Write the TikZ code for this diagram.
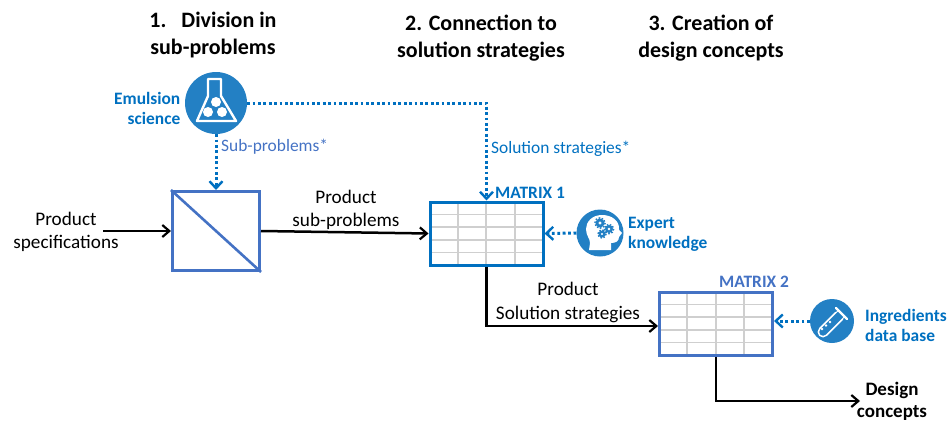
\documentclass[tikz,border=0pt]{standalone}
\usepackage{fontspec}
\setmainfont{Carlito}
\usetikzlibrary{arrows.meta}
\definecolor{sciblue}{HTML}{0070C0}
\definecolor{boxblue}{HTML}{4472C4}
\definecolor{iconblue}{HTML}{2380C4}
\definecolor{gridgray}{HTML}{CFCFCF}
\begin{document}
\begin{tikzpicture}[
        x = 1pt, y = -1pt,
        txt/.style = {align=center, inner sep=0pt, font=\fontsize{19.2}{23.5}\selectfont},
        head/.style = {txt, font=\fontsize{22}{27}\selectfont\bfseries},
        bluetxt/.style = {align=left, inner sep=0pt, text=sciblue, font=\fontsize{17.4}{20}\selectfont\bfseries},
        note/.style = {inner sep=0pt, font=\fontsize{17.4}{20}\selectfont},
        mat/.style = {draw, line width=3pt, minimum width=113pt, minimum height=63pt, inner sep=0pt},
        icon/.style = {circle, fill=iconblue, inner sep=0pt},
        arr/.style = {draw, line width=2.5pt, -{Straight Barb[length=7pt,width=12pt,line width=2.2pt]}},
        dotarr/.style = {draw=sciblue, line width=3pt, dash pattern=on 2.8pt off 2.6pt, -{Straight Barb[length=7pt,width=13pt,line width=2.4pt]}},
        gridline/.style = {draw=gridgray, line width=1.6pt},
    ]
    \useasboundingbox (0,0) rectangle (950,423);

    % headings
    \node (H1) [head] at (213,35.5) {1.~~~Division in\\sub-problems};
    \node (H2) [head] at (481,38.5) {2. Connection to\\solution strategies};
    \node (H3) [head] at (711,38.5) {3. Creation of\\design concepts};

    % table lines
    \draw[gridline] (430,214.6) -- (543,214.6);
    \draw[gridline] (430,227.2) -- (543,227.2);
    \draw[gridline] (430,239.8) -- (543,239.8);
    \draw[gridline] (430,252.4) -- (543,252.4);
    \draw[gridline] (458,202) -- (458,265);
    \draw[gridline] (486,202) -- (486,265);
    \draw[gridline] (515,202) -- (515,265);
    \draw[gridline] (659,304.6) -- (773,304.6);
    \draw[gridline] (659,317.2) -- (773,317.2);
    \draw[gridline] (659,329.8) -- (773,329.8);
    \draw[gridline] (659,342.4) -- (773,342.4);
    \draw[gridline] (687,292) -- (687,355);
    \draw[gridline] (716,292) -- (716,355);
    \draw[gridline] (744,292) -- (744,355);

    \node (B) [draw=boxblue, line width=3pt, minimum width=87pt, minimum height=79pt, inner sep=0pt] at (216,231) {};
    \node (M1) [mat, draw=sciblue] at (486.5,233.5) {};
    \node (M2) [mat, draw=boxblue] at (716,323.5) {};
    \draw[boxblue, line width=2.6pt] (B.north west) -- (B.south east);

    \node (F) [icon, minimum size=62pt] at (216,103) {};
    \node (K) [icon, minimum size=47pt] at (600,233) {};
    \node (T) [icon, minimum size=44pt] at (832,321) {};

    % flask
    \draw[white, line width=2.4pt, line join=round] (208,79) -- (221,79) -- (221,96) -- (236,121) -- (197,121) -- (208,96) -- cycle;
    \fill[white] (216,102) circle (5);
    \fill[white] (208,112) circle (5);
    \fill[white] (222,112) circle (5);

    % head with gears
    \fill[white] (589,250) -- (611,250) -- (611,243) .. controls (616,243) and (619,241) .. (619,237)
        -- (622,233) -- (619,230) .. controls (620,221) and (612,215) .. (602,215)
        .. controls (592,215) and (586,222) .. (586,229) .. controls (586,236) and (590,238) .. (590,243) -- cycle;
    \fill[iconblue, even odd rule] (600,223) circle (4.5) (600,223) circle (1.8);
    \fill[iconblue, even odd rule] (609,229) circle (4) (609,229) circle (1.6);
    \fill[iconblue, even odd rule] (602,234) circle (3.5) (602,234) circle (1.3);
    \draw[iconblue, line width=1.4pt, dash pattern=on 1.6pt off 1.6pt] (600,223) circle (5.2);
    \draw[iconblue, line width=1.4pt, dash pattern=on 1.6pt off 1.6pt] (609,229) circle (4.7);
    \draw[iconblue, line width=1.4pt, dash pattern=on 1.6pt off 1.6pt] (602,234) circle (4.1);

    % tube
    \draw[white, line width=11pt, line cap=round] (823,332) -- (839,316);
    \draw[iconblue, line width=7.5pt, line cap=round] (823,332) -- (841,314);
    \draw[white, line width=2.4pt, line cap=round] (836,308) -- (847,319);
    \fill[white] (822,329) circle (1.3);
    \fill[white] (826,325.5) circle (1.3);
    \fill[white] (830,322) circle (1.3);

    % labels
    \node (SPEC) [txt] at (66,232) {Product\\specifications};
    \node (SUB) [txt] at (346,210) {Product\\sub-problems};
    \node (SOL) [txt] at (568,302.5) {Product\\Solution strategies};
    \node (DES) [txt, font=\fontsize{19}{22.5}\selectfont\bfseries] at (892,401.5) {Design\\concepts};
    \node (EMU) [bluetxt, align=right, anchor=east] at (180.5,108.5) {Emulsion\\science};
    \node (EXP) [bluetxt, anchor=west] at (628,234.5) {Expert\\knowledge};
    \node (ING) [bluetxt, anchor=west] at (865,325) {Ingredients\\data base};
    \node (SP) [note, text=boxblue, anchor=west] at (221,146.5) {Sub-problems*};
    \node (SS) [note, text=sciblue, anchor=west] at (491,148.5) {Solution strategies*};
    \node (MT1) [bluetxt, anchor=west] at (495,192.5) {MATRIX 1};
    \node (MT2) [bluetxt, text=boxblue, anchor=west] at (719,281.5) {MATRIX 2};

    \coordinate (IN) at (103,231);
    \coordinate (OUT) at (860,401);

    \path[arr] (IN) -- (B.west);
    \path[arr] (B.east) -- (M1.west);
    \path[arr] (M1.south) |- ([yshift=-2.5pt]M2.west);
    \path[arr] (M2.south) |- (OUT);

    \path[dotarr] (F.south) -- (B.north);
    \path[dotarr] (F.east) -| (M1.north);
    \path[dotarr] (K.west) -- (M1.east);
    \path[dotarr] (T.west) -- (M2.east |- T.west);
\end{tikzpicture}
\end{document}
